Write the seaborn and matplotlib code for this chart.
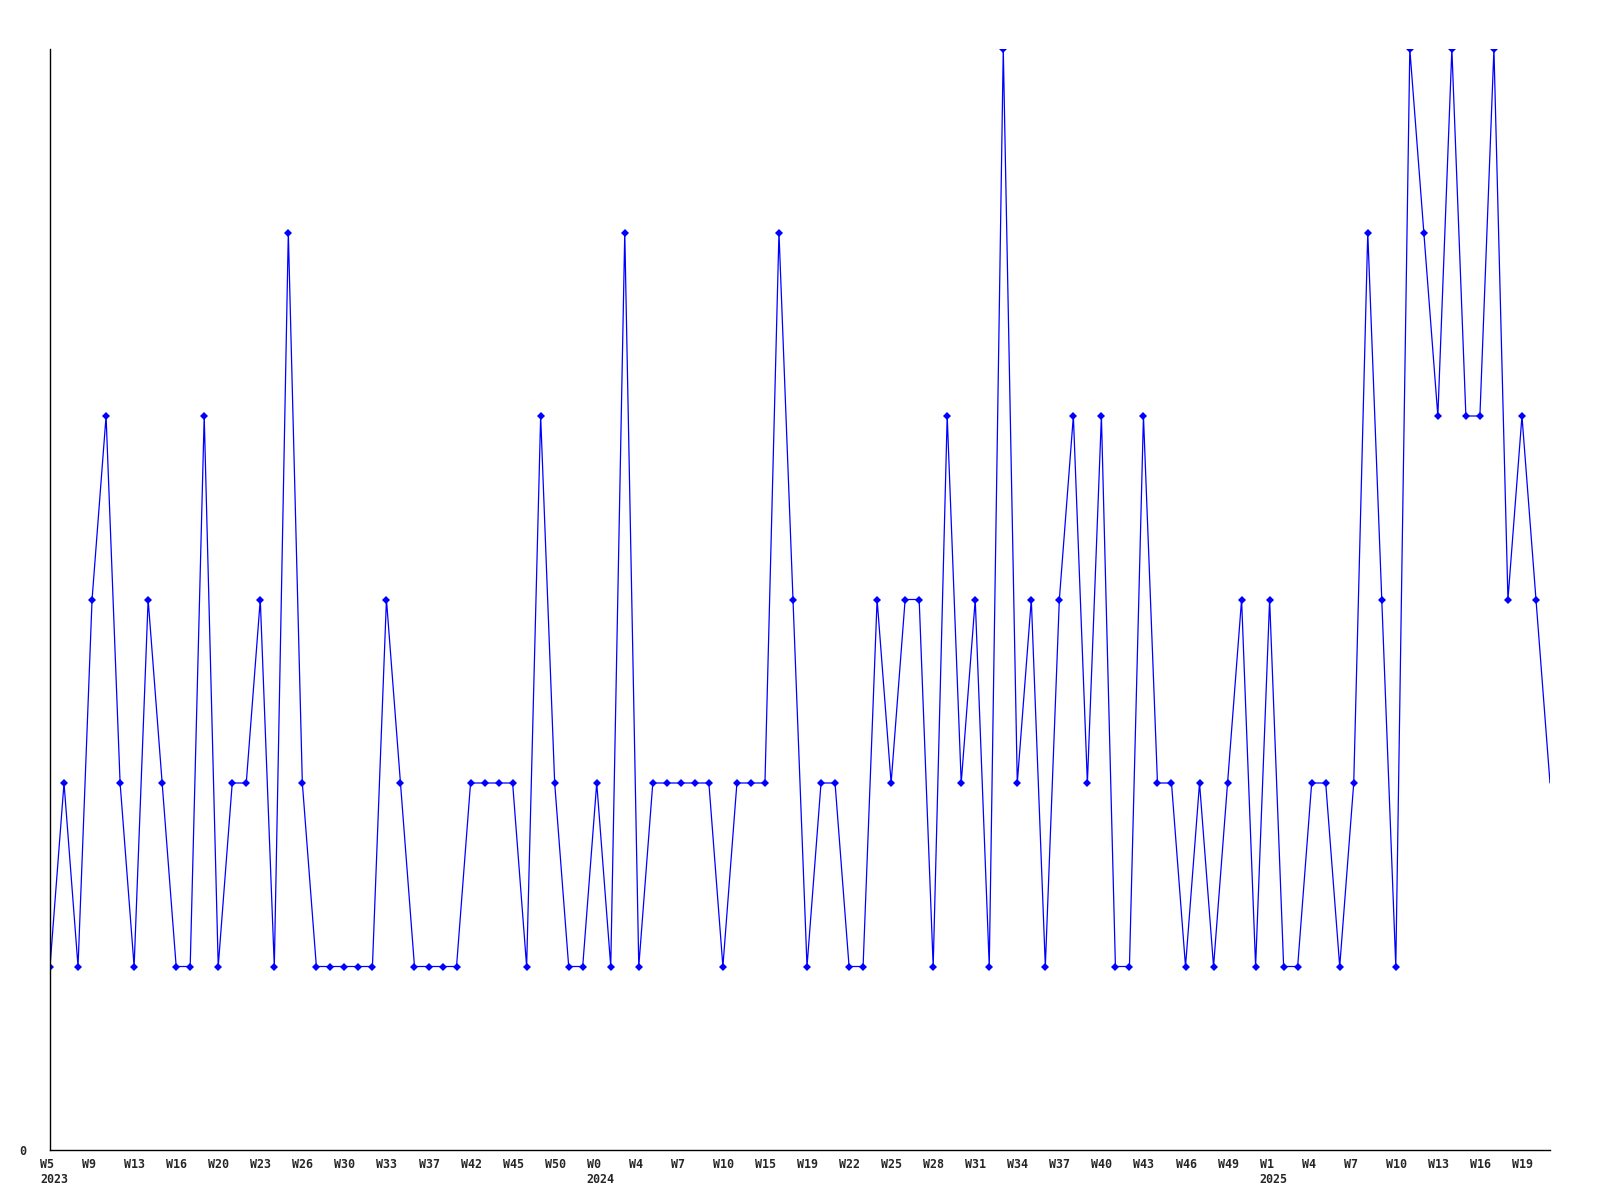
import matplotlib
matplotlib.use("Agg")
import matplotlib.pyplot as plt
import matplotlib.transforms as mtransforms
import numpy as np
import pandas as pd
import seaborn as sns

# weekly counts
values = [1, 2, 1, 3, 4, 2, 1, 3, 2, 1,
          1, 4, 1, 2, 2, 3, 1, 5, 2, 1,
          1, 1, 1, 1, 3, 2, 1, 1, 1, 1,
          2, 2, 2, 2, 1, 4, 2, 1, 1, 2,
          1, 5, 1, 2, 2, 2, 2, 2, 1, 2,
          2, 2, 5, 3, 1, 2, 2, 1, 1, 3,
          2, 3, 3, 1, 4, 2, 3, 1, 6, 2,
          3, 1, 3, 4, 2, 4, 1, 1, 4, 2,
          2, 1, 2, 1, 2, 3, 1, 3, 1, 1,
          2, 2, 1, 2, 5, 3, 1, 6, 5, 4,
          6, 4, 4, 6, 3, 4, 3, 2]

tick_labels = ["W5\n2023", "W9", "W13", "W16", "W20", "W23", "W26", "W30", "W33",
               "W37", "W42", "W45", "W50", "W0\n2024", "W4", "W7", "W10", "W15",
               "W19", "W22", "W25", "W28", "W31", "W34", "W37", "W40", "W43",
               "W46", "W49", "W1\n2025", "W4", "W7", "W10", "W13", "W16", "W19"]

df = pd.DataFrame({"week": np.arange(len(values)), "count": values})

sns.set_style("white")
plt.rcParams["font.family"] = ["DejaVu Sans Mono"]

fig = plt.figure(figsize=(16, 12), dpi=100)
ax = fig.add_axes([50 / 1600, 50 / 1200, 1500 / 1600, 1101 / 1200])

sns.lineplot(data=df, x="week", y="count", ax=ax, color="#0000ff", linewidth=0.9,
             marker="D", markersize=3.6, markeredgewidth=0,
             markevery=list(range(len(values) - 1)))

ax.set_xlim(0, len(values) - 1)
ax.set_ylim(0, 6)
sns.despine(ax=ax)
for s in ["left", "bottom"]:
    ax.spines[s].set_color("black")
    ax.spines[s].set_linewidth(1.0)

ax.set_xticks(np.arange(0, len(values), 3))
ax.set_xticklabels(tick_labels, fontsize=8.4, fontweight="bold", ha="left",
                   linespacing=1.2)
ax.set_yticks([0])
ax.set_yticklabels(["0"], fontsize=8.4, fontweight="bold")
ax.tick_params(axis="x", length=0, pad=5.5)
ax.tick_params(axis="y", length=0, pad=17)

shift = mtransforms.ScaledTranslation(-10 / 100, 0, fig.dpi_scale_trans)
for lbl in ax.get_xticklabels():
    lbl.set_transform(lbl.get_transform() + shift)
    lbl.set_verticalalignment("top")

ax.set_xlabel("")
ax.set_ylabel("")
ax.grid(False)

fig.savefig("out.png", dpi=100)
